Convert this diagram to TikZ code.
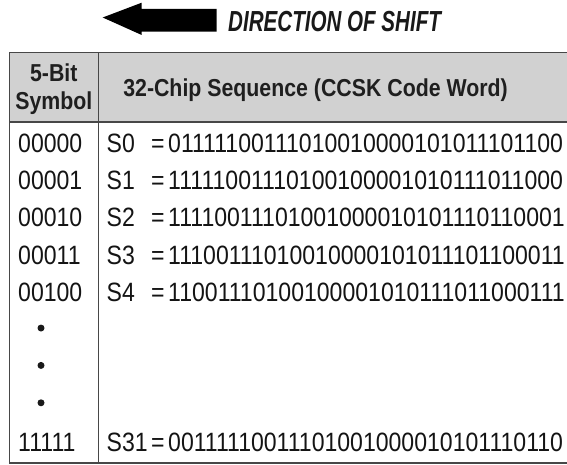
\documentclass[tikz,border=0pt]{standalone}
\usepackage{fontspec}
\setmainfont{Liberation Sans}[FakeStretch=0.87]
\newfontfamily\shiftfont{Liberation Sans}[FakeStretch=0.71]

\begin{document}
\begin{tikzpicture}[x=1pt, y=-1pt,
        rule/.style={draw=black!72, line width=1.6pt},
        bitcell/.style={font=\fontsize{26.5}{26.5}\selectfont, text=black!92, inner sep=0pt, anchor=base west},
        headcell/.style={font=\bfseries\fontsize{24.5}{24.5}\selectfont, text=black!88, inner sep=0pt, anchor=base},
        dotcell/.style={circle, fill=black!90, inner sep=0pt, minimum size=7pt},
    ]
    \useasboundingbox (0,0) rectangle (567,465);
    % direction of shift
    \fill (102.7,17.5) -- (141.7,2.7) -- (141.7,9) -- (216.7,9) -- (216.7,31.7) -- (141.7,31.7) -- (141.7,35) -- cycle;
    \node (shift) [anchor=base west, inner sep=0pt, text=black!90, font=\shiftfont\bfseries\itshape\fontsize{29}{29}\selectfont] at (228,31.5) {DIRECTION OF SHIFT};
    % table frame
    \fill [black!18] (9.3,52.7) rectangle (567,122);
    \draw [rule] (567,52.7) -- (9.3,52.7) -- (9.3,463) -- (567,463);
    \draw [rule] (9.3,122) -- (567,122);
    \draw [rule] (98.3,52.7) -- (98.3,463);
    % header
    \node (hbit) [headcell] at (53.8,82) {5-Bit};
    \node (hsym) [headcell] at (53.8,110) {Symbol};
    \node (hseq) [headcell, anchor=base east] at (508,96.7) {32-Chip Sequence (CCSK Code Word)};
    % rows
    \foreach \i/\sym/\lab/\bits in {
        0/00000/S0/01111100111010010000101011101100,
        1/00001/S1/11111001110100100001010111011000,
        2/00010/S2/11110011101001000010101110110001,
        3/00011/S3/11100111010010000101011101100011,
        4/00100/S4/11001110100100001010111011000111,
        8/11111/S31/00111110011101001000010101110110} {
        \node (sym\i) [bitcell] at (18,142.7+37.37*\i+9.5) {\sym};
        \node (lab\i) [bitcell] at (106.5,142.7+37.37*\i+9.5) {\lab};
        \node (eq\i) [bitcell] at (151,142.7+37.37*\i+9.5) {=};
        \node (seq\i) [bitcell] at (168,142.7+37.37*\i+9.5) {\bits};
    }
    \foreach \i in {5,6,7}
        \node (dot\i) [dotcell] at (41,142.7+37.37*\i-1.5) {};
\end{tikzpicture}
\end{document}
